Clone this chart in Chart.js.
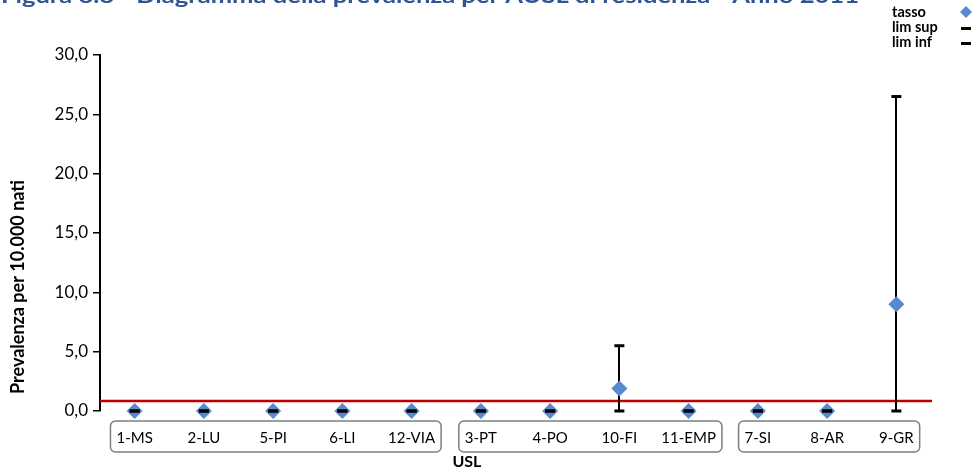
<!DOCTYPE html>
<html>
<head>
<meta charset="utf-8">
<script src="https://cdn.jsdelivr.net/npm/chart.js@4.4.1/dist/chart.umd.min.js"></script>
<style>
  body { margin: 0; background: #fff; }
  #wrap { position: relative; width: 973px; height: 469px; }
</style>
</head>
<body>
<div id="wrap"><canvas id="chart" width="973" height="469"></canvas></div>
<script>
// data
const usl = ['1-MS', '2-LU', '5-PI', '6-LI', '12-VIA', '3-PT', '4-PO', '10-FI', '11-EMP', '7-SI', '8-AR', '9-GR'];
const tasso = [0, 0, 0, 0, 0, 0, 0, 1.9, 0, 0, 0, 9.0];
const limSup = [0, 0, 0, 0, 0, 0, 0, 5.5, 0, 0, 0, 26.5];
const limInf = [0, 0, 0, 0, 0, 0, 0, 0, 0, 0, 0, 0];
const tassoRegionale = 0.85;
const gruppi = [[0, 4], [5, 8], [9, 11]];
const yTicks = [0, 5, 10, 15, 20, 25, 30];
const titolo = 'Figura 8.8 - Diagramma della prevalenza per AUSL di residenza - Anno 2011';
const titoloY = 'Prevalenza per 10.000 nati';

const FONT = 'Lato, "Open Sans", sans-serif';
const BLUE = '#5889CF';

// red line, whiskers, label boxes, legend, titles
const extras = {
  id: 'extras',
  beforeDatasetsDraw(chart) {
    const { ctx, chartArea, scales: { x, y } } = chart;
    ctx.save();
    const yr = y.getPixelForValue(tassoRegionale);
    ctx.strokeStyle = '#C00000';
    ctx.lineWidth = 2.5;
    ctx.beginPath();
    ctx.moveTo(chartArea.left, yr);
    ctx.lineTo(chartArea.right + 1, yr);
    ctx.stroke();

    ctx.strokeStyle = '#000';
    ctx.lineWidth = 2;
    usl.forEach((u, i) => {
      if (limSup[i] === limInf[i]) return;
      const px = Math.round(x.getPixelForValue(i));
      ctx.beginPath();
      ctx.moveTo(px, y.getPixelForValue(limSup[i]));
      ctx.lineTo(px, y.getPixelForValue(limInf[i]));
      ctx.stroke();
    });
    ctx.restore();
  },
  afterDraw(chart) {
    const { ctx, scales: { x, y } } = chart;
    ctx.save();

    // boxes round the category groups
    ctx.font = '15px ' + FONT;
    ctx.strokeStyle = '#7F7F7F';
    ctx.lineWidth = 1.5;
    gruppi.forEach(([a, b]) => {
      const l = x.getPixelForValue(a) - ctx.measureText(usl[a]).width / 2 - 6;
      const r = x.getPixelForValue(b) + ctx.measureText(usl[b]).width / 2 + 6;
      ctx.beginPath();
      ctx.roundRect(l, 421, r - l, 31, 5);
      ctx.stroke();
    });

    // axis title USL
    ctx.fillStyle = '#000';
    ctx.font = 'bold 16px ' + FONT;
    ctx.textAlign = 'center';
    ctx.textBaseline = 'middle';
    ctx.fillText('USL', x.getPixelForValue(5) - 14, 462);

    // y axis title
    ctx.save();
    ctx.translate(18, 287);
    ctx.rotate(-Math.PI / 2);
    ctx.font = 'bold 18px ' + FONT;
    ctx.fillText(titoloY, 0, 0);
    ctx.restore();

    // legend
    ctx.textAlign = 'left';
    ctx.font = 'bold 14.5px ' + FONT;
    const voci = ['tasso', 'lim sup', 'lim inf'];
    voci.forEach((v, i) => {
      const ly = 12 + i * 15;
      ctx.fillStyle = '#000';
      ctx.fillText(v, 892, ly);
      if (i === 0) {
        ctx.fillStyle = BLUE;
        ctx.beginPath();
        ctx.moveTo(966, ly - 6);
        ctx.lineTo(972, ly);
        ctx.lineTo(966, ly + 6);
        ctx.lineTo(960, ly);
        ctx.closePath();
        ctx.fill();
      } else {
        ctx.fillRect(961, ly, 10, 3);
      }
    });

    // title, cut off at the top edge
    ctx.fillStyle = '#2F5597';
    ctx.font = 'bold 20px ' + FONT;
    ctx.textBaseline = 'alphabetic';
    const w = ctx.measureText(titolo).width;
    ctx.translate(1, 3);
    ctx.scale(858 / w, 1);
    ctx.fillText(titolo, 0, 0);
    ctx.restore();
  }
};

new Chart(document.getElementById('chart'), {
  type: 'line',
  data: {
    labels: usl,
    datasets: [
      {
        label: 'tasso',
        data: tasso,
        showLine: false,
        clip: false,
        pointStyle: 'rectRot',
        pointRadius: 8,
        pointBackgroundColor: BLUE,
        pointBorderWidth: 0,
        borderColor: BLUE,
        order: 1
      },
      {
        label: 'lim sup',
        data: limSup,
        showLine: false,
        clip: false,
        pointStyle: 'line',
        pointRadius: 5,
        pointBorderWidth: 3,
        pointBorderColor: '#000',
        borderColor: '#000',
        order: 0
      },
      {
        label: 'lim inf',
        data: limInf,
        showLine: false,
        clip: false,
        pointStyle: 'line',
        pointRadius: 5,
        pointBorderWidth: 3,
        pointBorderColor: '#000',
        borderColor: '#000',
        order: 0
      }
    ]
  },
  options: {
    responsive: false,
    animation: false,
    layout: { padding: { left: 0, right: 42, top: 55, bottom: 0 } },
    plugins: {
      legend: { display: false },
      tooltip: { enabled: false }
    },
    scales: {
      x: {
        offset: true,
        grid: { display: false, drawTicks: false },
        border: { display: false },
        ticks: {
          color: '#000',
          font: { size: 15, family: FONT },
          padding: 18,
          maxRotation: 0,
          autoSkip: false
        },
        afterFit: (s) => { s.height = 58; }
      },
      y: {
        min: 0,
        max: 30,
        afterBuildTicks: (s) => { s.ticks = yTicks.map(v => ({ value: v })); },
        grid: { display: true, drawOnChartArea: false, drawTicks: true, tickLength: 7, color: '#000', lineWidth: 1.5 },
        border: { display: true, color: '#000', width: 2 },
        ticks: {
          color: '#000',
          font: { size: 17, family: FONT },
          padding: 5,
          callback: (v) => v.toFixed(1).replace('.', ',')
        },
        afterFit: (s) => { s.width = 100; }
      }
    }
  },
  plugins: [extras]
});
</script>
</body>
</html>
